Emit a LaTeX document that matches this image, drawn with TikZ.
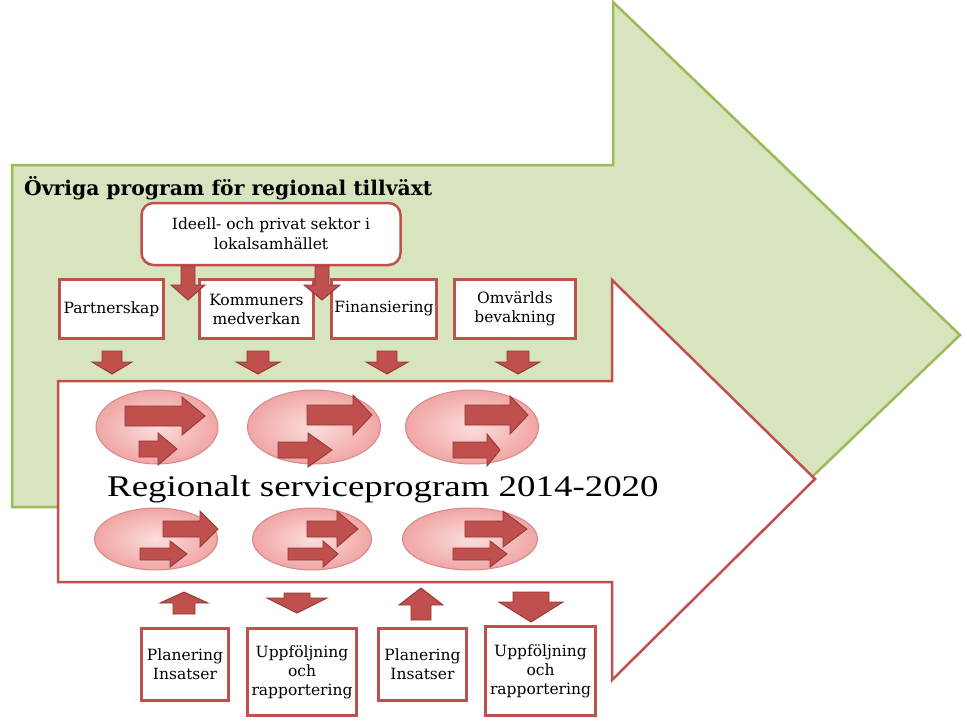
\documentclass[tikz,border=0pt]{standalone}
\usepackage{fontspec}
\setmainfont{DejaVu Serif}
\newfontfamily\timesf{Liberation Serif}
\definecolor{grfill}{HTML}{D7E4BD}
\definecolor{grline}{HTML}{9BBB59}
\definecolor{rdline}{HTML}{C0504D}
\definecolor{rdfill}{HTML}{C0504D}
\definecolor{rddark}{HTML}{943634}
\definecolor{pinkout}{HTML}{F0A6A4}
\definecolor{pinkin}{HTML}{FBDEDD}
\definecolor{ovline}{HTML}{D48A88}
\usetikzlibrary{shapes.geometric}
\newcommand{\rarr}[6]{\draw[blk] (#1,#2-#5) -- (#3,#2-#5) -- (#3,#2-#6) -- (#4,#2) -- (#3,#2+#6) -- (#3,#2+#5) -- (#1,#2+#5) -- cycle;}
\newcommand{\darr}[6]{\draw[blk] (#1-#5,#2) -- (#1+#5,#2) -- (#1+#5,#3) -- (#1+#6,#3) -- (#1,#4) -- (#1-#6,#3) -- (#1-#5,#3) -- cycle;}
\begin{document}
\begin{tikzpicture}[x=1pt,y=-1pt,
  box/.style={draw=rdline, line width=2.5pt, fill=white, align=center, inner sep=1pt,
    font=\fontsize{15.5}{19}\selectfont},
  blk/.style={fill=rdfill, draw=rddark, line width=0.9pt, line join=miter},
  oval/.style={ellipse, draw=ovline, line width=1pt, inner sep=0pt, inner color=pinkin, outer color=pinkout},
  bigarrow/.style={line width=2.5pt, line join=miter}]
\useasboundingbox (0,0) rectangle (967,725);
% green background arrow
\draw[bigarrow, fill=grfill, draw=grline] (12,165) -- (613,165) -- (613,2) -- (960,335) -- (613,668) -- (613,507) -- (12,507) -- cycle;
% white/red arrow
\draw[bigarrow, fill=white, draw=rdline] (58,381) -- (612,381) -- (612,280) -- (815,479) -- (612,680) -- (612,582) -- (58,582) -- cycle;
% title
\node[anchor=base west, inner sep=0pt, font=\bfseries\fontsize{20.3}{22}\selectfont] (title) at (24,195) {Övriga program för regional tillväxt};
% top boxes
\node[box, rounded corners=12pt, minimum width=259pt, minimum height=62pt, font=\fontsize{15.5}{20}\selectfont] (ideell) at (271,234) {Ideell- och privat sektor i\\lokalsamhället};
\node[box, minimum width=104pt, minimum height=59pt] (partner) at (111.5,309) {Partnerskap};
\node[box, minimum width=114pt, minimum height=59pt] (kommun) at (256.5,309) {Kommuners\\medverkan};
\node[box, minimum width=105pt, minimum height=59pt] (finans) at (384,309) {Finansiering};
\node[box, minimum width=121pt, minimum height=59pt] (omv) at (515,309) {Omvärlds\\bevakning};
% arrows from ideell
\darr{188}{266}{285}{300}{7}{17}
\darr{322}{266}{285}{300}{7}{18}
% arrows into program
\darr{112}{351}{362}{374}{10}{20}
\darr{258}{351}{362}{374}{11}{22}
\darr{387}{351}{362}{374}{10}{21}
\darr{518}{351}{362}{374}{11}{22}
% ellipses row 1
\node[oval, minimum width=122pt, minimum height=74pt] (e1) at (157,427) {};
\node[oval, minimum width=133pt, minimum height=74pt] (e2) at (314,427) {};
\node[oval, minimum width=133pt, minimum height=74pt] (e3) at (472,427) {};
\rarr{125}{416}{182}{205}{10}{19}
\rarr{139}{449}{158}{177}{8}{16}
\rarr{307}{415}{353}{372}{10}{20}
\rarr{278}{450}{308}{332}{8}{17}
\rarr{465}{415}{510}{528}{10}{19}
\rarr{453}{450}{487}{500}{8}{16}
% program label
\node[anchor=base west, inner sep=0pt, font=\timesf\fontsize{30}{32}\selectfont, xscale=1.23] (prog) at (107,496) {Regionalt serviceprogram 2014-2020};
% ellipses row 2
\node[oval, minimum width=123pt, minimum height=62pt] (f1) at (156,539) {};
\node[oval, minimum width=119pt, minimum height=62pt] (f2) at (312,539) {};
\node[oval, minimum width=135pt, minimum height=62pt] (f3) at (470,539) {};
\rarr{163}{529}{200}{218}{8}{18}
\rarr{140}{554}{170}{187}{6}{13}
\rarr{307}{529}{337}{358}{8}{18}
\rarr{288}{554}{323}{338}{6}{13}
\rarr{465}{529}{503}{527}{8}{18}
\rarr{453}{554}{490}{507}{6}{13}
% bottom arrows
\darr{184}{614}{603}{592}{11}{24}
\darr{297}{593}{598}{613}{13}{30}
\darr{421}{620}{605}{588}{10}{22}
\darr{531}{592}{602}{622}{18}{32}
% bottom boxes
\node[box, minimum width=87pt, minimum height=72pt] (plan1) at (185,664.5) {Planering\\Insatser};
\node[box, minimum width=109pt, minimum height=87pt] (upp1) at (302,672) {Uppföljning\\och\\rapportering};
\node[box, minimum width=88pt, minimum height=72pt] (plan2) at (422.5,664.5) {Planering\\Insatser};
\node[box, minimum width=110pt, minimum height=89pt] (upp2) at (540.5,671) {Uppföljning\\och\\rapportering};
\end{tikzpicture}
\end{document}
